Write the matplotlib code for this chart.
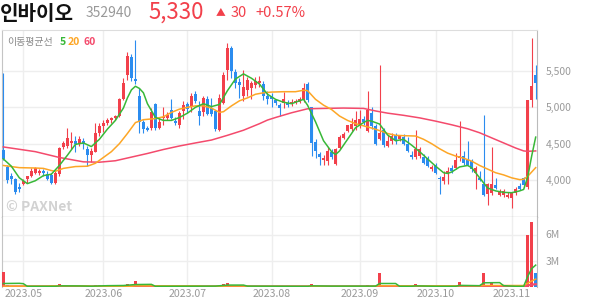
import matplotlib
matplotlib.use("Agg")
import matplotlib.pyplot as plt
import numpy as np

plt.rcParams['font.family'] = ['Noto Sans CJK KR', 'DejaVu Sans']

RED = '#f2404b'
BLUE = '#2b8cef'
GREEN = '#38b838'
ORANGE = '#fda626'
PINK = '#f44a6c'
GRID = '#eeeeee'
LABEL = '#9a9a9a'

# daily candles, index 0 = 2023-04-24
opens = [4410, 4180, 4050, 4010, 3900, 3950, 4010, 4060, 4100, 4090,
         4120, 4080, 4070, 3960, 4080, 4450, 4470, 4510, 4530, 4500,
         4540, 4420, 4350, 4390, 4650, 4740, 4790, 4820, 4850, 4880,
         5120, 5440, 5690, 5390, 5150, 4800, 4720, 4710, 5040, 4720,
         4850, 4860, 4970, 4810, 4760, 4950, 5040, 5000, 5190, 4950,
         4930, 5120, 4990, 4950, 4690, 5060, 5520, 5810, 5490, 5350,
         5150, 5240, 5270, 5310, 5330, 5320, 5160, 5150, 5100, 5030,
         5060, 5060, 5040, 5060, 5080, 5100, 5320, 5000, 4520, 4360,
         4270, 4260, 4390, 4220, 4440, 4580, 4680, 4700, 4740, 4750,
         4840, 4670, 4920, 4740, 4570, 4690, 4470, 4530, 4620, 4560,
         4590, 4490, 4350, 4320, 4330, 4320, 4300, 4150, 4210, 4030,
         3990, 4080, 4160, 4160, 4300, 4330, 4280, 4260, 4090, 4030,
         3950, 3810, 3820, 3930, 3800, 3790, 3760, 3750, 3820, 3920,
         4030, 3900, 5100, 5440]
highs = [5470, 4210, 4100, 4030, 3960, 4010, 4060, 4160, 4180, 4150,
         4150, 4120, 4090, 4130, 4460, 4530, 4720, 4660, 4610, 4610,
         4580, 4470, 4440, 4790, 4780, 4830, 4850, 4870, 4900, 5130,
         5400, 5760, 5740, 5930, 5270, 4830, 4740, 4990, 5060, 4850,
         5010, 4930, 5120, 4870, 4950, 5090, 5080, 5200, 5220, 5090,
         5160, 5160, 5130, 4970, 5190, 5490, 5880, 5850, 5530, 5400,
         5520, 5420, 5360, 5420, 5430, 5360, 5230, 5200, 5120, 5060,
         5210, 5100, 5110, 5110, 5140, 5340, 5350, 5010, 4560, 4380,
         4340, 4460, 4420, 4440, 4620, 4660, 4760, 4860, 4950, 4960,
         4880, 5220, 5010, 4770, 5580, 4710, 4620, 4640, 4640, 4620,
         4630, 4590, 4400, 4690, 4460, 4360, 4330, 4200, 4230, 4050,
         4130, 4180, 4210, 4370, 4810, 4400, 4530, 4290, 4190, 4130,
         4890, 3960, 4460, 4030, 3870, 3880, 3830, 3840, 3900, 3960,
         4040, 5100, 5950, 5580]
lows = [4270, 3960, 3940, 3810, 3840, 3930, 3960, 4040, 4080, 4070,
        4050, 4000, 3950, 3940, 4060, 4420, 4440, 4430, 4380, 4470,
        4420, 4190, 4250, 4380, 4600, 4660, 4760, 4780, 4830, 4870,
        5100, 5370, 5360, 5320, 4650, 4650, 4670, 4690, 4690, 4700,
        4760, 4820, 4840, 4760, 4720, 4840, 4920, 4930, 5060, 4760,
        4880, 4900, 4880, 4680, 4670, 5040, 5380, 5410, 5260, 5130,
        5090, 5150, 5120, 5270, 5280, 5100, 5050, 5000, 5030, 4880,
        4990, 5000, 5020, 5040, 5060, 5080, 5080, 4330, 4300, 4200,
        4200, 4200, 4290, 4210, 4420, 4560, 4660, 4680, 4690, 4720,
        4760, 4660, 4700, 4480, 4550, 4460, 4450, 4500, 4500, 4530,
        4480, 4380, 4290, 4290, 4300, 4220, 4180, 4120, 4080, 3810,
        3950, 3940, 4100, 4150, 4260, 4210, 4200, 4110, 3870, 3990,
        3780, 3660, 3800, 3870, 3780, 3770, 3750, 3620, 3800, 3860,
        3910, 3880, 5000, 5120]
closes = [4285, 4000, 4010, 3830, 3870, 3990, 4050, 4130, 4160, 4120,
          4100, 4020, 3960, 4090, 4440, 4510, 4580, 4540, 4490, 4560,
          4500, 4340, 4400, 4650, 4740, 4790, 4830, 4850, 4880, 5120,
          5340, 5700, 5400, 5360, 4800, 4700, 4690, 4930, 4710, 4800,
          4870, 4890, 4850, 4780, 4920, 5030, 4980, 5150, 5090, 4880,
          5130, 4910, 4910, 4700, 5130, 5450, 5820, 5500, 5330, 5310,
          5280, 5380, 5340, 5360, 5360, 5150, 5120, 5120, 5060, 4990,
          5120, 5030, 5080, 5090, 5110, 5270, 5100, 4510, 4400, 4320,
          4300, 4400, 4310, 4420, 4590, 4630, 4750, 4770, 4830, 4840,
          4800, 4960, 4740, 4490, 4640, 4480, 4540, 4610, 4550, 4600,
          4500, 4400, 4310, 4420, 4420, 4240, 4190, 4180, 4100, 4010,
          4040, 4130, 4120, 4280, 4330, 4230, 4210, 4150, 4170, 4000,
          3790, 3940, 3940, 3890, 3830, 3850, 3790, 3820, 3870, 3880,
          3930, 5100, 5300, 5330]

# volume in millions of shares
volumes = [1.75, 0.18, 0.08, 0.10, 0.06, 0.05, 0.07, 0.09, 0.06, 0.05,
           0.06, 0.05, 0.07, 0.09, 0.30, 0.12, 0.10, 0.08, 0.06, 0.07,
           0.06, 0.08, 0.07, 0.20, 0.19, 0.10, 0.17, 0.09, 0.11, 0.20,
           0.12, 0.30, 0.15, 0.65, 0.18, 0.10, 0.07, 0.09, 0.08, 0.06,
           0.07, 0.05, 0.08, 0.06, 0.07, 0.09, 0.06, 0.08, 0.07, 0.06,
           0.08, 0.07, 0.06, 0.09, 0.20, 0.35, 0.45, 0.15, 0.09, 0.07,
           0.08, 0.06, 0.05, 0.06, 0.05, 0.07, 0.05, 0.04, 0.05, 0.06,
           0.05, 0.04, 0.05, 0.04, 0.05, 0.09, 0.08, 0.30, 0.12, 0.08,
           0.06, 0.07, 0.05, 0.08, 0.09, 0.06, 0.07, 0.06, 0.08, 0.06,
           0.05, 0.20, 0.09, 0.08, 1.65, 0.15, 0.08, 0.07, 0.05, 0.06,
           0.05, 0.06, 0.05, 0.30, 0.08, 0.06, 0.05, 0.04, 0.05, 0.07,
           0.05, 0.06, 0.05, 0.09, 0.60, 0.12, 0.10, 0.06, 0.08, 0.07,
           1.65, 0.20, 0.60, 0.20, 0.18, 0.08, 0.06, 0.09, 0.06, 0.05,
           0.07, 6.00, 7.45, 1.65]

# moving averages (index, value)
ma5_idx = [0, 2, 4, 6, 8, 10, 12, 14, 16, 18, 20, 22, 24, 26, 28, 30, 31, 32, 33,
           34, 35, 36, 38, 40, 42, 44, 46, 48, 50, 52, 54, 56, 58, 60, 62, 64, 66,
           68, 70, 72, 74, 75, 76, 78, 80, 82, 83, 84, 86, 88, 90, 91, 92, 94, 96,
           98, 100, 102, 104, 106, 108, 110, 111, 112, 114, 116, 117, 119, 121,
           123, 125, 127, 129, 130, 131, 132, 133]
ma5_val = [4290, 4190, 4030, 3950, 3990, 4060, 4080, 4200, 4340, 4490, 4510, 4460,
           4560, 4700, 4820, 4990, 5130, 5240, 5290, 5260, 5200, 5050, 4860, 4820,
           4820, 4860, 4920, 5000, 5050, 5010, 5040, 5230, 5390, 5460, 5400, 5320,
           5180, 5110, 5070, 5050, 5090, 5110, 5030, 4800, 4540, 4390, 4350, 4400,
           4560, 4720, 4790, 4820, 4810, 4770, 4620, 4540, 4560, 4480, 4390, 4290,
           4190, 4100, 4090, 4110, 4180, 4200, 4170, 4030, 3890, 3850, 3830, 3825,
           3850, 3870, 4040, 4330, 4590]
ma20_idx = [0, 4, 8, 10, 12, 13, 15, 18, 21, 23, 25, 27, 29, 31, 33, 35, 38, 40, 42,
            44, 46, 48, 50, 52, 54, 55, 57, 59, 61, 63, 65, 67, 70, 73, 75, 76, 78,
            80, 82, 84, 86, 88, 90, 92, 94, 96, 98, 100, 103, 105, 107, 109, 111,
            113, 115, 117, 119, 121, 123, 125, 127, 129, 130, 131, 132, 133]
ma20_val = [4200, 4170, 4165, 4160, 4130, 4120, 4160, 4185, 4190, 4230, 4310, 4390,
            4500, 4640, 4790, 4830, 4845, 4870, 4930, 4975, 5000, 5020, 5020, 4990,
            4930, 4940, 5020, 5090, 5130, 5180, 5200, 5210, 5215, 5215, 5235, 5230,
            5110, 5030, 4970, 4880, 4820, 4775, 4745, 4715, 4680, 4640, 4615, 4610,
            4605, 4560, 4500, 4430, 4370, 4330, 4300, 4260, 4200, 4150, 4100, 4070,
            4030, 4005, 4010, 4050, 4110, 4170]
ma60_idx = [0, 8, 14, 20, 24, 28, 32, 36, 40, 44, 48, 52, 56, 60, 64, 66, 68, 72, 76,
            80, 85, 90, 93, 96, 100, 104, 108, 112, 116, 119, 122, 125, 128, 130,
            131, 133]
ma60_val = [4455, 4390, 4310, 4250, 4245, 4265, 4315, 4365, 4420, 4468, 4510, 4550,
            4615, 4685, 4775, 4825, 4860, 4925, 4980, 4985, 4990, 4985, 4950, 4920,
            4890, 4855, 4810, 4760, 4705, 4650, 4580, 4510, 4440, 4400, 4395, 4400]

# volume moving averages (millions)
vma5_idx = [0, 4, 5, 6, 13, 14, 19, 22, 26, 30, 33, 37, 38, 53, 56, 60, 61, 76, 77,
            82, 93, 94, 98, 99, 102, 103, 108, 113, 114, 119, 120, 124, 125, 128,
            130, 131, 132, 133]
vma5_val = [0.40, 0.42, 0.38, 0.08, 0.08, 0.13, 0.12, 0.09, 0.15, 0.17, 0.28, 0.30,
            0.08, 0.10, 0.22, 0.22, 0.10, 0.08, 0.13, 0.10, 0.10, 0.40, 0.40, 0.08,
            0.08, 0.13, 0.08, 0.08, 0.18, 0.15, 0.48, 0.50, 0.15, 0.08, 0.08, 1.20,
            2.10, 2.50]
vma20_idx = [0, 11, 12, 21, 22, 32, 33, 49, 50, 55, 56, 61, 62, 92, 93, 113, 114,
             119, 120, 130, 131, 132, 133]
vma20_val = [0.10, 0.10, 0.13, 0.13, 0.08, 0.09, 0.14, 0.13, 0.08, 0.09, 0.12, 0.11,
             0.07, 0.07, 0.14, 0.13, 0.15, 0.14, 0.17, 0.17, 0.42, 0.68, 0.90]
vma60_idx = [0, 130, 131, 132, 133]
vma60_val = [0.06, 0.07, 0.17, 0.27, 0.32]

month_idx = [5, 25, 46, 67, 89, 108, 127]
month_labels = ['2023.05', '2023.06', '2023.07', '2023.08', '2023.09', '2023.10', '2023.11']
price_ticks = [4000, 4500, 5000, 5500]
price_labels = ['4,000', '4,500', '5,000', '5,500']
vol_ticks = [3.0, 6.0]
vol_labels = ['3M', '6M']

W, H = 594, 304
fig = plt.figure(figsize=(W / 100, H / 100), dpi=100)
ax = fig.add_axes([2 / W, 1 - 217 / H, 535 / W, 187 / H])
axv = fig.add_axes([2 / W, 1 - 287 / H, 535 / W, 70 / H])

x = np.arange(len(closes))
o = np.array(opens)
c = np.array(closes)
colors = [RED if cc >= oo else BLUE for oo, cc in zip(o, c)]

# price panel
ax.vlines(x, lows, highs, colors=colors, linewidth=0.8, zorder=3)
body = np.maximum(np.abs(c - o), 12)
ax.bar(x, body, bottom=np.minimum(o, c), width=0.75, color=colors, linewidth=0, zorder=4)
ax.plot(ma60_idx, ma60_val, color=PINK, lw=1.1, zorder=5)
ax.plot(ma20_idx, ma20_val, color=ORANGE, lw=1.1, zorder=5)
ax.plot(ma5_idx, ma5_val, color=GREEN, lw=1.1, zorder=6)

ax.set_xlim(-0.33, 133.33)
ax.set_ylim(3491, 6064)
ax.set_yticks(price_ticks)
ax.set_yticklabels(price_labels)
ax.set_xticks(month_idx)
ax.set_xticklabels([])
ax.yaxis.tick_right()
ax.tick_params(axis='y', length=0, pad=6, labelsize=7.5, labelcolor=LABEL)
ax.tick_params(axis='x', length=0)
ax.grid(True, color=GRID, lw=1, zorder=0)
ax.spines['left'].set_color('#c4c4c4')
ax.spines['top'].set_color('#dddddd')
ax.spines['right'].set_color('#bbbbbb')
ax.spines['bottom'].set_color('#3a3a3a')

# volume panel
vol = np.array(volumes)
vcolors = [RED if i == 0 or vol[i] >= vol[i - 1] else BLUE for i in range(len(vol))]
axv.bar(x, vol, width=0.75, color=vcolors, linewidth=0, zorder=3)
axv.plot(vma60_idx, vma60_val, color=PINK, lw=1.6, zorder=4)
axv.plot(vma20_idx, vma20_val, color=ORANGE, lw=1.1, zorder=5)
axv.plot(vma5_idx, vma5_val, color=GREEN, lw=1.1, zorder=6)
axv.set_xlim(-0.33, 133.33)
axv.set_ylim(0, 8.0)
axv.set_yticks(vol_ticks)
axv.set_yticklabels(vol_labels)
axv.set_xticks(month_idx)
axv.set_xticklabels(month_labels)
axv.yaxis.tick_right()
axv.tick_params(axis='y', length=0, pad=6, labelsize=7.5, labelcolor=LABEL)
axv.tick_params(axis='x', length=0, pad=1.5, labelsize=7.6, labelcolor=LABEL)
axv.grid(True, color=GRID, lw=1, zorder=0)
axv.spines['left'].set_color('#c4c4c4')
axv.spines['right'].set_color('#bbbbbb')
axv.spines['top'].set_visible(False)
axv.spines['bottom'].set_visible(False)

# header
def px(xp, yp):
    return xp / W, 1 - yp / H

fig.text(*px(0, 13), '인바이오', fontsize=14.5, fontweight='bold', color='#111111', va='center')
fig.text(*px(86, 13), '352940', fontsize=10, color='#999999', va='center')
fig.text(*px(148, 12), '5,330', fontsize=16, color=RED, va='center')
fig.text(*px(216, 12.5), '▲', fontsize=7, color=RED, va='center')
fig.text(*px(231, 13), '30', fontsize=10.5, color=RED, va='center')
fig.text(*px(255, 13), '+0.57%', fontsize=10.5, color=RED, va='center')

fig.text(*px(7, 42), '이동평균선', fontsize=7.2, color='#8a8a8a', va='center')
fig.text(*px(60, 42), '5', fontsize=7.5, color=GREEN, va='center', fontweight='bold')
fig.text(*px(68, 42), '20', fontsize=7.5, color=ORANGE, va='center', fontweight='bold')
fig.text(*px(83, 42), '60', fontsize=7.5, color=PINK, va='center', fontweight='bold')

fig.text(*px(6, 207), '© PAXNet', fontsize=10, fontweight='bold', color='#d2d2d2', va='center')

fig.savefig('out.png', dpi=100)
